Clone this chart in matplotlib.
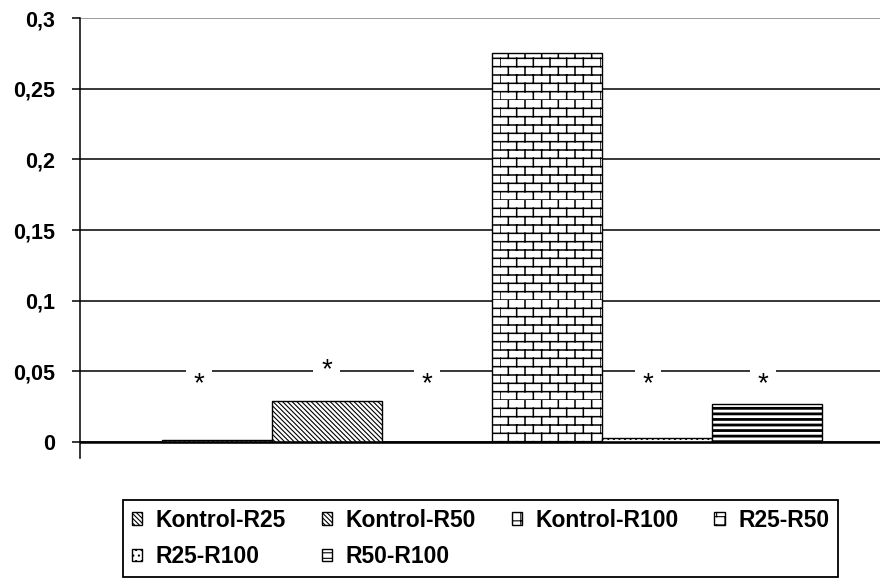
import warnings
warnings.filterwarnings("ignore")
import numpy as np
import matplotlib
matplotlib.use("Agg")
import matplotlib.pyplot as plt
import matplotlib.hatch as mhatch
from matplotlib.path import Path

# ---------------- data ----------------
categories = ["Kontrol-R25", "Kontrol-R50", "Kontrol-R100", "R25-R50", "R25-R100", "R50-R100"]
values = [0.0012, 0.029, 0.0, 0.275, 0.003, 0.027]
hatches = ["\\" * 7, "\\" * 7, "++", "B", "...", "---"]
y_ticks = [0, 0.05, 0.1, 0.15, 0.2, 0.25, 0.3]
y_tick_labels = ["0", "0,05", "0,1", "0,15", "0,2", "0,25", "0,3"]
star_x = [-0.164, 0.997, 1.909, 3.918, 4.964]
star_y = [0.036, 0.046, 0.036, 0.036, 0.036]


# ---------------- custom brick hatch ----------------
class BrickHatch(mhatch.HatchPatternBase):
    rows = 12
    cols = 6

    def __init__(self, hatch, density):
        self.on = 'B' in hatch
        if self.on:
            self.num_vertices = (self.rows + self.rows * self.cols) * 2
        else:
            self.num_vertices = 0

    def set_vertices_and_codes(self, vertices, codes):
        r, c = self.rows, self.cols
        k = 0
        for i in range(r):
            y = i / r
            vertices[k] = (0.0, y); vertices[k + 1] = (1.0, y); k += 2
        for i in range(r):
            off = 0.5 / c if i % 2 else 0.0
            for j in range(c):
                x = j / c + off
                vertices[k] = (x, i / r); vertices[k + 1] = (x, (i + 1) / r); k += 2
        codes[0::2] = Path.MOVETO
        codes[1::2] = Path.LINETO


mhatch._hatch_types.append(BrickHatch)

plt.rcParams['font.family'] = ['Liberation Sans', 'DejaVu Sans']
plt.rcParams['hatch.linewidth'] = 0.8

fig = plt.figure(figsize=(8.92, 5.82), dpi=100)
ax = fig.add_axes([80 / 892, 1 - 457.6 / 582, 800 / 892, (457.6 - 18) / 582])

x = np.arange(len(categories))
bars = ax.bar(x, values, width=1.0, color="white", edgecolor="black",
              linewidth=1.0, zorder=2)
for b, h in zip(bars, hatches):
    b.set_hatch(h)
    if h == "---" and hasattr(b, "set_hatch_linewidth"):
        b.set_hatch_linewidth(2.0)
    if h == "B" and hasattr(b, "set_hatch_linewidth"):
        b.set_hatch_linewidth(1.1)

ax.set_xlim(-1.245, 6.027)
ax.set_ylim(-0.011, 0.3)
ax.set_yticks(y_ticks)
ax.set_yticklabels(y_tick_labels, fontsize=15.5, fontweight="bold")
ax.set_xticks([])

ax.set_axisbelow(True)
ax.yaxis.grid(True, color="black", linewidth=1.1)
gl = ax.get_ygridlines()
gl[-1].set_color("#808080")

for s in ["top", "right", "bottom"]:
    ax.spines[s].set_visible(False)
ax.spines["left"].set_linewidth(1.1)
ax.tick_params(axis="y", direction="out", length=6, width=1.1, pad=12)
ax.axhline(0, color="black", linewidth=1.8, zorder=3)

for sx, sy in zip(star_x, star_y):
    ax.text(sx, sy, "*", fontsize=20, ha="center", va="baseline", zorder=1,
            bbox=dict(facecolor="white", edgecolor="none", pad=5.5))

# legend: order so that rows read left-to-right
handles = list(bars)
order = [0, 4, 1, 5, 2, 3]
leg = fig.legend([handles[i] for i in order], [categories[i] for i in order],
                 ncol=4, loc="upper left", bbox_to_anchor=(123 / 892, 1 - 500 / 582),
                 bbox_transform=fig.transFigure, borderaxespad=0,
                 prop={"size": 16.5, "weight": "bold"}, handlelength=0.45,
                 handleheight=0.45, handletextpad=0.6, columnspacing=1.55,
                 labelspacing=0.58, fancybox=False, frameon=True, borderpad=0.38)
leg.get_frame().set_edgecolor("black")
leg.get_frame().set_linewidth(1.3)
leg.get_frame().set_alpha(1)

fig.savefig("out.png", dpi=100)
